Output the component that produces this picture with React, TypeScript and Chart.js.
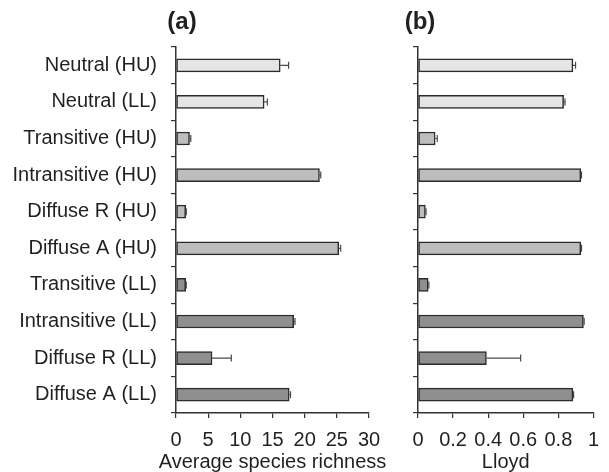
import React, { useEffect, useRef } from "react";
import { Chart, registerables } from "chart.js";

Chart.register(...registerables);

const categories = [
  "Neutral (HU)",
  "Neutral (LL)",
  "Transitive (HU)",
  "Intransitive (HU)",
  "Diffuse R (HU)",
  "Diffuse A (HU)",
  "Transitive (LL)",
  "Intransitive (LL)",
  "Diffuse R (LL)",
  "Diffuse A (LL)",
];

const richness = [16.2, 13.7, 2.1, 22.3, 1.5, 25.3, 1.5, 18.3, 5.6, 17.6];
const richnessErr = [1.3, 0.5, 0.2, 0.2, 0.1, 0.3, 0.1, 0.2, 3.0, 0.2];

const lloyd = [0.883, 0.83, 0.098, 0.928, 0.042, 0.928, 0.058, 0.943, 0.39, 0.883];
const lloydErr = [0.015, 0.008, 0.012, 0.004, 0.004, 0.004, 0.004, 0.004, 0.195, 0.004];

const richnessTicks = [0, 5, 10, 15, 20, 25, 30];
const lloydTicks = [0, 0.2, 0.4, 0.6, 0.8, 1];

const groupOfBar = ["n", "n", "h", "h", "h", "h", "l", "l", "l", "l"];
const groupColors: Record<string, string> = { n: "#e4e5e6", h: "#bcbdbf", l: "#8e8f91" };

const FONT = "'Liberation Sans', Arial, sans-serif";
const TEXT = "#231f20";

const errorBarPlugin = {
  id: "errorBars",
  afterDatasetsDraw(chart: any) {
    const errs: number[] = chart.options.plugins.errorBars?.errors || [];
    const data = chart.data.datasets[0].data as number[];
    const xs = chart.scales.x;
    const ys = chart.scales.y;
    const ctx = chart.ctx;
    ctx.save();
    ctx.strokeStyle = "#4a4a4a";
    ctx.lineWidth = 1.2;
    data.forEach((v, i) => {
      const e = errs[i] || 0;
      const x1 = xs.getPixelForValue(v);
      const x2 = xs.getPixelForValue(v + e);
      const y = ys.getPixelForValue(i);
      ctx.beginPath();
      ctx.moveTo(x1, y);
      ctx.lineTo(x2, y);
      ctx.moveTo(x2, y - 3.5);
      ctx.lineTo(x2, y + 3.5);
      ctx.stroke();
    });
    ctx.restore();
  },
};

// Axis title drawn without Chart.js's maxWidth squeeze (text wider than the plot area)
const axisTitlePlugin = {
  id: "axisTitle",
  afterDraw(chart: any) {
    const text: string = chart.options.plugins.axisTitle?.text || "";
    const xs = chart.scales.x;
    const ctx = chart.ctx;
    ctx.save();
    ctx.fillStyle = TEXT;
    ctx.font = `20px ${FONT}`;
    ctx.textAlign = "center";
    ctx.textBaseline = "alphabetic";
    ctx.fillText(text, (xs.left + xs.right) / 2, xs.bottom - 4.5);
    ctx.restore();
  },
};

function makeConfig(
  values: number[],
  errors: number[],
  ticks: number[],
  xTitle: string,
  yWidth: number,
  showLabels: boolean,
  rightPad: number
): any {
  const max = ticks[ticks.length - 1];
  const step = ticks[1] - ticks[0];
  return {
    type: "bar",
    data: {
      labels: categories,
      datasets: [
        {
          data: values,
          backgroundColor: groupOfBar.map((g) => groupColors[g]),
          borderColor: "#2b2b2b",
          borderWidth: 1.5,
          borderSkipped: false,
          barThickness: 13,
        },
      ],
    },
    plugins: [errorBarPlugin, axisTitlePlugin],
    options: {
      indexAxis: "y",
      animation: false,
      responsive: false,
      maintainAspectRatio: false,
      layout: { padding: { top: 47, right: rightPad, bottom: 0, left: 0 } },
      plugins: {
        legend: { display: false },
        tooltip: { enabled: false },
        title: { display: false },
        errorBars: { errors },
        axisTitle: { text: xTitle },
      },
      scales: {
        x: {
          type: "linear",
          min: 0,
          max,
          ticks: {
            stepSize: step,
            color: TEXT,
            padding: 10,
            font: { family: FONT, size: 20 },
            callback: (v: number) => {
              const found = ticks.find((t) => Math.abs(t - v) < 1e-9);
              return found === undefined ? "" : String(found);
            },
          },
          grid: {
            drawOnChartArea: false,
            drawTicks: true,
            tickLength: 5,
            color: "#333",
            lineWidth: 1.2,
          },
          border: { display: true, color: "#333", width: 1.5 },
          title: { display: false },
          afterFit: (scale: any) => {
            scale.height = 59;
          },
        },
        y: {
          type: "category",
          offset: true,
          ticks: {
            display: showLabels,
            color: TEXT,
            padding: 14,
            font: { family: FONT, size: 20 },
          },
          grid: {
            offset: true,
            drawOnChartArea: false,
            drawTicks: true,
            tickLength: 5,
            color: "#333",
            lineWidth: 1.2,
          },
          border: { display: true, color: "#333", width: 1.5 },
          afterFit: (scale: any) => {
            scale.width = yWidth;
          },
        },
      },
    },
  };
}

export default function App() {
  const refA = useRef<HTMLCanvasElement>(null);
  const refB = useRef<HTMLCanvasElement>(null);

  useEffect(() => {
    const a = new Chart(
      refA.current!,
      makeConfig(richness, richnessErr, richnessTicks, "Average species richness", 176, true, 31)
    );
    const b = new Chart(
      refB.current!,
      makeConfig(lloyd, lloydErr, lloydTicks, "Lloyd", 38, false, 15)
    );
    return () => {
      a.destroy();
      b.destroy();
    };
  }, []);

  const titleStyle: React.CSSProperties = {
    position: "absolute",
    top: 7,
    width: 60,
    textAlign: "center",
    fontFamily: FONT,
    fontWeight: "bold",
    fontSize: 24,
    lineHeight: "28px",
    color: TEXT,
  };

  return (
    <div
      style={{
        position: "fixed",
        left: 0,
        top: 0,
        width: 609,
        height: 472,
        background: "#fff",
        overflow: "hidden",
      }}
    >
      <canvas
        ref={refA}
        width={400}
        height={472}
        style={{ position: "absolute", left: 0, top: 0, width: 400, height: 472 }}
      />
      <canvas
        ref={refB}
        width={229}
        height={472}
        style={{ position: "absolute", left: 380, top: 0, width: 229, height: 472 }}
      />
      <div style={{ ...titleStyle, left: 152 }}>(a)</div>
      <div style={{ ...titleStyle, left: 390 }}>(b)</div>
    </div>
  );
}
